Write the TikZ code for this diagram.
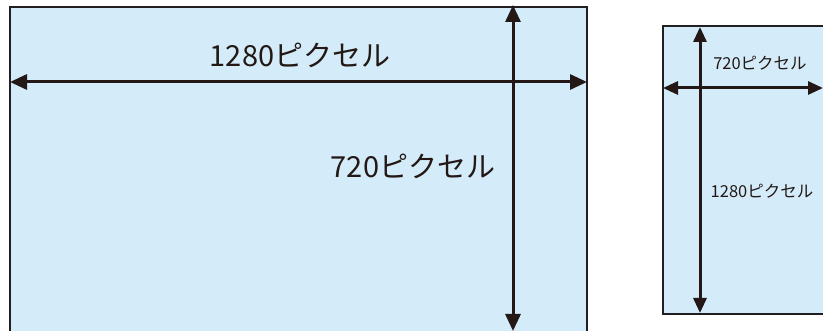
\documentclass[tikz,border=0pt]{standalone}
\usepackage{fontspec}
\setmainfont{Noto Sans CJK JP}
\usetikzlibrary{arrows.meta}
\definecolor{screen}{HTML}{D4ECF9}
\definecolor{edge}{HTML}{231F20}
\definecolor{ink}{HTML}{231815}
\tikzset{
  screenbox/.style={draw=edge, line width=1.4pt, fill=screen},
  bigarrow/.style={draw=ink, line width=3pt, {Triangle[length=17pt,width=15pt]}-{Triangle[length=17pt,width=15pt]}},
  smallarrow/.style={draw=ink, line width=3pt, {Triangle[length=15pt,width=13pt]}-{Triangle[length=15pt,width=13pt]}},
  biglabel/.style={text=ink, font=\fontsize{29}{32}\selectfont, inner sep=0pt},
  smalllabel/.style={text=ink, font=\fontsize{16.5}{19}\selectfont, inner sep=0pt}
}
\begin{document}
\begin{tikzpicture}[x=1pt,y=-1pt]
\useasboundingbox (0,0) rectangle (823,331);
\begin{scope}
\clip (0,0) rectangle (823,331);
\draw[screenbox] (10,7) rectangle (587,345);
\draw[screenbox] (663,26) rectangle (845,314);
\coordinate (bl) at (10,82);
\coordinate (br) at (587,82);
\coordinate (bt) at (513,5);
\coordinate (bb) at (513,331);
\coordinate (sl) at (663,88);
\coordinate (sr) at (823,88);
\coordinate (st) at (700,27);
\coordinate (sb) at (700,313);
\draw[bigarrow] (bl) -- (br);
\draw[bigarrow] (bt) -- (bb);
\draw[smallarrow] (sl) -- (sr);
\draw[smallarrow] (st) -- (sb);
\end{scope}
\node[biglabel] (w1) at (300,55) {1280ピクセル};
\node[biglabel] (h1) at (413,166) {720ピクセル};
\node[smalllabel] (w2) at (760,63) {720ピクセル};
\node[smalllabel] (h2) at (762,191) {1280ピクセル};
\end{tikzpicture}
\end{document}
